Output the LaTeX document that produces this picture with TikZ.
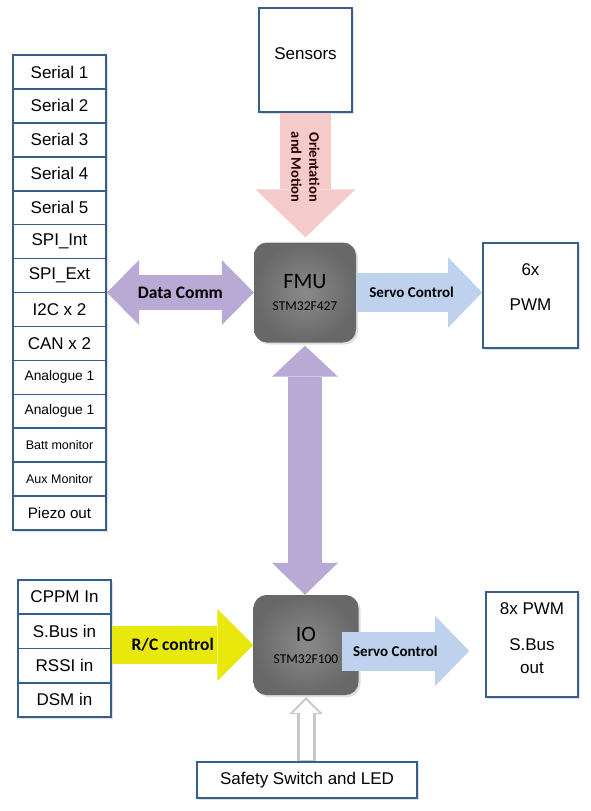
\documentclass[tikz,border=0pt]{standalone}
\usepackage{fontspec}
\setmainfont{Liberation Sans}
\newfontfamily\calibri{Carlito}
\usetikzlibrary{arrows.meta,positioning,fit,shadows}

\definecolor{boxline}{RGB}{56,93,138}
\definecolor{chipin}{RGB}{138,138,138}
\definecolor{chipout}{RGB}{104,104,104}
\definecolor{pinkarrow}{RGB}{244,202,202}
\definecolor{lilac}{RGB}{184,170,212}
\definecolor{servoblue}{RGB}{190,210,238}
\definecolor{rcyellow}{RGB}{232,232,12}
\definecolor{safetygray}{RGB}{200,200,200}

\newcommand{\fsbig}{\fontsize{17}{20}\selectfont}
\newcommand{\fsmid}{\fontsize{13.8}{16}\selectfont}
\newcommand{\fssmall}{\fontsize{12.5}{15}\selectfont}
\newcommand{\fspiezo}{\fontsize{15.2}{18}\selectfont}
\newcommand{\fslabel}{\calibri\bfseries\fontsize{17.5}{20}\selectfont}

\tikzset{
  softshadow/.style={drop shadow={shadow xshift=2pt, shadow yshift=-2pt, opacity=0.25}},
  port/.style={draw=boxline, line width=1.6pt, fill=white, minimum width=93pt,
    minimum height=33.93pt, inner sep=0pt, softshadow},
  box/.style={draw=boxline, line width=1.6pt, fill=white, inner sep=2pt,
    font=\fsbig, align=center, softshadow},
  chip/.style={rounded corners=13pt, inner color=chipin, outer color=chipout,
    minimum width=102pt, minimum height=100pt, font=\calibri, align=center, softshadow},
  orient/.style={draw=pinkarrow, line width=51pt,
    -{Triangle[width=100pt, length=48pt, line width=0pt]}},
  datacomm/.style={draw=lilac, line width=35pt,
    {Triangle[width=65pt, length=32pt, line width=0pt]}-{Triangle[width=65pt, length=32pt, line width=0pt]}},
  bus/.style={draw=lilac, line width=34pt,
    {Triangle[width=66pt, length=31pt, line width=0pt]}-{Triangle[width=66pt, length=32pt, line width=0pt]}},
  servo/.style={draw=servoblue, line width=39pt,
    -{Triangle[width=70pt, length=34pt, line width=0pt]}},
  rcarrow/.style={draw=rcyellow, line width=38pt,
    -{Triangle[width=72pt, length=36pt, line width=0pt]}},
  safety/.style={draw=safetygray, line width=19pt,
    -{Triangle[width=34pt, length=17pt, line width=0pt]}},
  safetyin/.style={draw=white, line width=13pt,
    -{Triangle[width=26pt, length=13pt, line width=0pt]}},
  arrowlabel/.style={font=\fslabel, text=black, inner sep=0pt}
}

\begin{document}
\begin{tikzpicture}[x=1pt, y=-1pt]
  \useasboundingbox (0,0) rectangle (590,811);

  % port columns
  \foreach \t/\f [count=\i] in {Serial 1/\fsbig, Serial 2/\fsbig, Serial 3/\fsbig,
      Serial 4/\fsbig, Serial 5/\fsbig, SPI\_Int/\fsbig, SPI\_Ext/\fsbig, I2C x 2/\fsbig,
      CAN x 2/\fsbig, Analogue 1/\fsmid, Analogue 1/\fsmid, Batt monitor/\fssmall,
      Aux Monitor/\fssmall, Piezo out/\fspiezo}
    \node[port, font=\f] (p\i) at (59.5, {55+33.93*(\i-0.5)}) {\t};
  \node[fit=(p1)(p14), inner sep=0pt] (ports) {};

  \foreach \t [count=\i] in {CPPM In, S.Bus in, RSSI in, DSM in}
    \node[port, font=\fsbig, minimum height=34.25pt] (r\i) at (64.5, {580+34.25*(\i-0.5)}) {\t};
  \node[fit=(r1)(r4), inner sep=0pt] (rcports) {};

  % boxes and processors
  \node[box, minimum width=93pt, minimum height=104pt] (sensors) at (305.5,60) {};
  \node[font=\fsbig] at ([yshift=6pt]sensors.center) {Sensors};
  \node[chip] (fmu) at (305,292.5) {{\fontsize{22}{22}\selectfont FMU}\\[10pt]{\fontsize{13.5}{16}\selectfont STM32F427}};
  \node[chip, minimum width=105pt] (io) at (306,645) {{\fontsize{22}{22}\selectfont IO}\\[10pt]{\fontsize{13.5}{16}\selectfont STM32F100}};
  \node[box, minimum width=95pt, minimum height=105pt] (pwm6) at (530.5,295.5) {};
  \node[font=\fontsize{17}{35}\selectfont, align=center] at ([yshift=8pt]pwm6.center) {6x\\PWM};
  \node[box, minimum width=92pt, minimum height=105pt] (pwm8) at (532,644.5) {};
  \node[font=\fontsize{17}{23}\selectfont, align=center] at ([yshift=6pt]pwm8.center) {8x PWM\\[13pt]S.Bus\\out};
  \node[box, minimum width=220pt, minimum height=36pt] (switch) at (307,780) {Safety Switch and LED};

  % data flows
  \draw[orient, shorten >=5pt] (sensors.south) -- (sensors.south |- fmu.north)
    node[pos=0.42, arrowlabel, rotate=-90, align=center, text=black!85!red,
      font=\calibri\bfseries\fontsize{14.5}{18}\selectfont] {Orientation\\and Motion};
  \draw[datacomm] (fmu.west) -- (fmu.west -| ports.east) node[midway, arrowlabel] {Data Comm};
  \draw[servo] (fmu.east) -- (fmu.east -| pwm6.west)
    node[pos=0.44, arrowlabel, font=\calibri\bfseries\fontsize{15}{18}\selectfont] {Servo Control};
  \draw[bus, shorten <=3pt] (fmu.south) -- (fmu.south |- io.north);
  \draw[rcarrow] (rcports.east |- io.west) -- (io.west) node[pos=0.43, arrowlabel] {R/C control};
  \draw[servo, shorten <=-17pt, shorten >=16pt] ([yshift=-6pt]io.east) -- ([yshift=-6pt]io.east -| pwm8.west)
    node[pos=0.29, arrowlabel, font=\calibri\bfseries\fontsize{15}{18}\selectfont] {Servo Control};
  \draw[safety, shorten >=2pt] (switch.north -| io.south) -- (io.south);
  \draw[safetyin, shorten <=1pt, shorten >=5pt] (switch.north -| io.south) -- (io.south);
\end{tikzpicture}
\end{document}
